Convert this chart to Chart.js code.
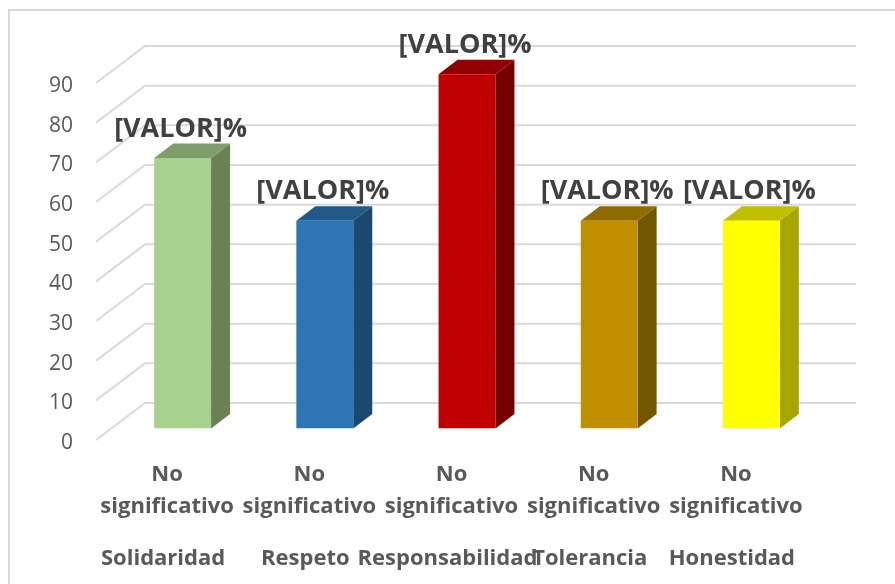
<!DOCTYPE html>
<html>
<head>
<meta charset="utf-8">
<style>
    html, body { margin: 0; padding: 0; background: #fff; overflow: hidden; }
    #wrap { position: relative; width: 895px; height: 584px; }
    #frame { position: absolute; left: 8px; top: 9px; right: -4px; bottom: -4px; border: 2px solid #d9d9d9; }
    canvas { position: absolute; left: 0; top: 0; }
</style>
<script src="https://cdn.jsdelivr.net/npm/chart.js@4"></script>
</head>
<body>
<div id="wrap">
    <div id="frame"></div>
    <canvas id="chart" width="895" height="584"></canvas>
</div>
<script>
const categories = ['Solidaridad', 'Respeto', 'Responsabilidad', 'Tolerancia', 'Honestidad'];
const levels = [['No', 'significativo'], ['No', 'significativo'], ['No', 'significativo'], ['No', 'significativo'], ['No', 'significativo']];
const values = [68.2, 52.4, 89.3, 52.4, 52.4];
const valueLabel = '[VALOR]%';
const frontColors = ['#a9d18e', '#2e75b6', '#c00000', '#bf8f00', '#ffff00'];
const topColors = ['#7f9d6b', '#225889', '#900000', '#8f6b00', '#bfbf00'];
const sideColors = ['#6b8055', '#1c476f', '#750000', '#745700', '#a6a600'];

const fontName = '"Open Sans", sans-serif';
const wallDepth = {x: 49, y: -37};
const barShift = {x: 15.5, y: -11.5};
const barDepth = {x: 19, y: -14.5};

function fillPoly(ctx, color, pts) {
    ctx.fillStyle = color;
    ctx.beginPath();
    ctx.moveTo(pts[0][0], pts[0][1]);
    pts.slice(1).forEach(p => ctx.lineTo(p[0], p[1]));
    ctx.closePath();
    ctx.fill();
}

// back wall and left side wall, one line per tick of the value axis
const wallPlugin = {
    id: 'wall',
    beforeDatasetsDraw(chart) {
        const {ctx, chartArea, scales} = chart;
        ctx.save();
        ctx.strokeStyle = '#d9d9d9';
        ctx.lineWidth = 2;
        scales.y.ticks.forEach(tick => {
            const py = scales.y.getPixelForValue(tick.value);
            ctx.beginPath();
            ctx.moveTo(chartArea.left, py);
            ctx.lineTo(chartArea.left + wallDepth.x, py + wallDepth.y);
            ctx.lineTo(chartArea.right + wallDepth.x, py + wallDepth.y);
            ctx.stroke();
        });
        ctx.restore();
    }
};

// pushes the bars into the floor and adds their side and top faces
const barPlugin = {
    id: 'bar3d',
    beforeDatasetDraw(chart) {
        chart.ctx.save();
        chart.ctx.translate(barShift.x, barShift.y);
        chart.getDatasetMeta(0).data.forEach((bar, i) => {
            const l = bar.x - bar.width / 2;
            const r = bar.x + bar.width / 2;
            const d = barDepth;
            fillPoly(chart.ctx, sideColors[i], [[r, bar.y], [r + d.x, bar.y + d.y], [r + d.x, bar.base + d.y], [r, bar.base]]);
            fillPoly(chart.ctx, topColors[i], [[l, bar.y], [l + d.x, bar.y + d.y], [r + d.x, bar.y + d.y], [r, bar.y]]);
        });
    },
    afterDatasetDraw(chart) {
        chart.ctx.restore();
    },
    afterDraw(chart) {
        const ctx = chart.ctx;
        ctx.save();
        ctx.font = `bold 27px ${fontName}`;
        ctx.fillStyle = '#404040';
        ctx.textAlign = 'center';
        ctx.textBaseline = 'middle';
        chart.getDatasetMeta(0).data.forEach(bar => {
            ctx.fillText(valueLabel, bar.x + barShift.x - 2, bar.y + barShift.y - 29);
        });
        ctx.restore();
    }
};

new Chart(document.getElementById('chart'), {
    type: 'bar',
    data: {
        labels: levels,
        datasets: [{
            data: values,
            backgroundColor: frontColors,
            borderWidth: 0,
            barPercentage: 0.4,
            categoryPercentage: 1
        }]
    },
    options: {
        responsive: false,
        animation: false,
        events: [],
        layout: {padding: {top: 83, right: 88, left: 0, bottom: 0}},
        plugins: {legend: {display: false}, title: {display: false}, tooltip: {enabled: false}},
        scales: {
            y: {
                min: 0,
                max: 90,
                ticks: {stepSize: 10, padding: 15, labelOffset: 3, color: '#595959', font: {family: fontName, size: 21}},
                grid: {display: false},
                border: {display: false},
                afterFit: scale => { scale.width = 96; }
            },
            x: {
                weight: 0,
                ticks: {autoSkip: false, maxRotation: 0, padding: 11, color: '#595959', font: {family: fontName, size: 22, weight: 'bold', lineHeight: 1.45}},
                grid: {display: false},
                border: {display: false},
                afterFit: scale => { scale.height = 90; }
            },
            x2: {
                type: 'category',
                position: 'bottom',
                weight: 1,
                labels: categories,
                ticks: {autoSkip: false, maxRotation: 0, padding: 8, labelOffset: -4, color: '#595959', font: {family: fontName, size: 22, weight: 'bold'}},
                grid: {display: false},
                border: {display: false},
                afterFit: scale => { scale.height = 54; }
            }
        }
    },
    plugins: [wallPlugin, barPlugin]
});
</script>
</body>
</html>
